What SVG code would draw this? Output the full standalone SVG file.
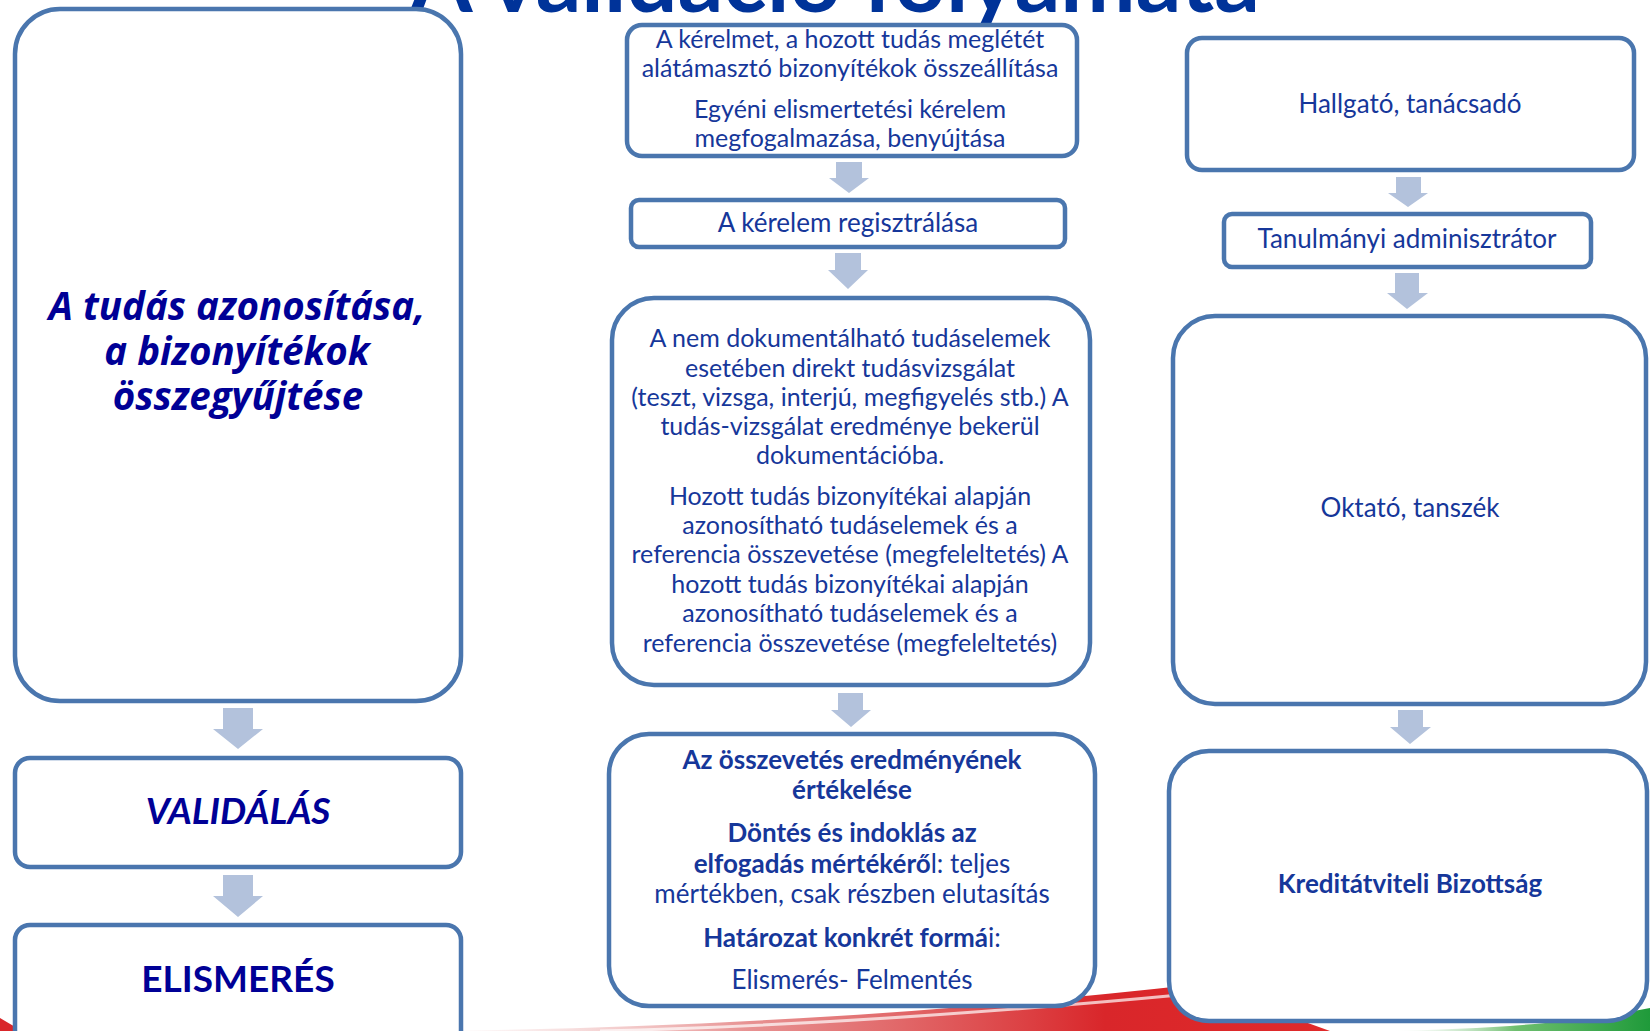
<svg xmlns="http://www.w3.org/2000/svg" width="1650" height="1031" viewBox="0 0 1650 1031">
<defs>
<style>
.box{fill:#ffffff;stroke:#4A76AE;stroke-width:4.5}
.arr{fill:#B3C2DC}
.t{font-family:Lato,"Open Sans","Liberation Sans",sans-serif;font-size:26px;fill:#16379A;text-anchor:middle}
.s{font-size:25px}
.b{font-weight:bold}
.lt{font-family:Lato,"Open Sans","Liberation Sans",sans-serif;font-weight:bold;font-size:37px;fill:#000096;text-anchor:middle}
.oi{font-family:"Open Sans",Lato,"Liberation Sans",sans-serif;font-style:italic;font-size:38.5px}
.title{font-family:Lato,"Open Sans","Liberation Sans",sans-serif;font-weight:bold;font-size:90px;fill:#003399;text-anchor:middle}
</style>
<linearGradient id="redg" x1="0" y1="0" x2="1" y2="0">
<stop offset="0" stop-color="#e9b3b3" stop-opacity="0"/>
<stop offset="0.35" stop-color="#d84a4a" stop-opacity="0.6"/>
<stop offset="0.75" stop-color="#d9262a"/>
<stop offset="1" stop-color="#e02a2a"/>
</linearGradient>
<linearGradient id="greeng" x1="0" y1="0" x2="1" y2="0">
<stop offset="0" stop-color="#ffffff" stop-opacity="0"/>
<stop offset="0.5" stop-color="#6fbf6f"/>
<stop offset="1" stop-color="#1f9a3a"/>
</linearGradient>
</defs>
<rect x="0" y="0" width="1650" height="1031" fill="#ffffff"/>
<g id="background">
<path d="M 430 1031 C 700 1028 950 1012 1200 984 L 1330 1031 Z" fill="url(#redg)"/>
<path d="M 600 1031 C 800 1026 1000 1012 1190 994" fill="none" stroke="#ffffff" stroke-opacity="0.7" stroke-width="3"/>
<path d="M 1380 1031 C 1500 1029 1580 1022 1650 1008 L 1650 1031 Z" fill="url(#greeng)"/>
<path d="M 0 1018 L 22 1031 L 0 1031 Z" fill="#d9262a"/>
</g>
<text class="title" x="835" y="12">A validáció folyamata</text>
<g id="connectors">
<polygon class="arr" points="223,708 253,708 253,729 263,729 238,749 213,729 223,729"/>
<polygon class="arr" points="223,875 253,875 253,896 263,896 238,917 213,896 223,896"/>
<polygon class="arr" points="836,162 862,162 862,178 869,178 849,193 829,178 836,178"/>
<polygon class="arr" points="835,253 861,253 861,270 868,270 848,289 828,270 835,270"/>
<polygon class="arr" points="838,693 863,693 863,710 871,710 851,727 831,710 838,710"/>
<polygon class="arr" points="1396,177 1421,177 1421,193 1428,193 1408,207 1388,193 1396,193"/>
<polygon class="arr" points="1395,273 1419,273 1419,293 1428,293 1407,309 1387,293 1395,293"/>
<polygon class="arr" points="1398,710 1423,710 1423,727 1431,727 1410,744 1390,727 1398,727"/>
</g>
<g id="n-azonositas">
<rect class="box" x="15" y="9" width="446" height="692" rx="45"/>
<text class="lt oi" x="237" y="320">A tudás azonosítása,</text>
<text class="lt oi" x="237" y="365">a bizonyítékok</text>
<text class="lt oi" x="238" y="410">összegyűjtése</text>
</g>
<g id="n-validalas">
<rect class="box" x="15" y="758" width="446" height="109" rx="15"/>
<text class="lt" font-style="italic" font-size="39" x="238" y="824">VALIDÁLÁS</text>
</g>
<g id="n-elismeres">
<rect class="box" x="15" y="925" width="446" height="130" rx="15"/>
<text class="lt" x="238" y="992">ELISMERÉS</text>
</g>
<g id="n-kerelem">
<rect class="box" x="627" y="25" width="450" height="131" rx="15"/>
<text class="t s" x="850" y="48">A kérelmet, a hozott tudás meglétét</text>
<text class="t s" x="850" y="77">alátámasztó bizonyítékok összeállítása</text>
<text class="t s" x="850" y="118">Egyéni elismertetési kérelem</text>
<text class="t s" x="850" y="147">megfogalmazása, benyújtása</text>
</g>
<g id="n-regisztralas">
<rect class="box" x="631" y="200" width="434" height="47" rx="8"/>
<text class="t" x="848" y="232">A kérelem regisztrálása</text>
</g>
<g id="n-vizsgalat">
<rect class="box" x="612" y="298" width="478" height="387" rx="42"/>
<text class="t s" x="850" y="347">A nem dokumentálható tudáselemek</text>
<text class="t s" x="850" y="377">esetében direkt tudásvizsgálat</text>
<text class="t s" x="850" y="406">(teszt, vizsga, interjú, megfigyelés stb.) A</text>
<text class="t s" x="850" y="435">tudás-vizsgálat eredménye bekerül</text>
<text class="t s" x="850" y="464">dokumentációba.</text>
<text class="t s" x="850" y="505">Hozott tudás bizonyítékai alapján</text>
<text class="t s" x="850" y="534">azonosítható tudáselemek és a</text>
<text class="t s" x="850" y="563">referencia összevetése (megfeleltetés) A</text>
<text class="t s" x="850" y="593">hozott tudás bizonyítékai alapján</text>
<text class="t s" x="850" y="622">azonosítható tudáselemek és a</text>
<text class="t s" x="850" y="652">referencia összevetése (megfeleltetés)</text>
</g>
<g id="n-dontes">
<rect class="box" x="609" y="734" width="486" height="272" rx="40"/>
<text class="t b" x="852" y="769">Az összevetés eredményének</text>
<text class="t b" x="852" y="799">értékelése</text>
<text class="t b" x="852" y="842">Döntés és indoklás az</text>
<text class="t" x="852" y="873"><tspan font-weight="bold">elfogadás mértékérő</tspan>l: teljes</text>
<text class="t" x="852" y="903">mértékben, csak részben elutasítás</text>
<text class="t" x="852" y="947"><tspan font-weight="bold">Határozat konkrét formá</tspan>i:</text>
<text class="t" x="852" y="989">Elismerés- Felmentés</text>
</g>
<g id="n-hallgato">
<rect class="box" x="1187" y="38" width="447" height="132" rx="15"/>
<text class="t" x="1410" y="113">Hallgató, tanácsadó</text>
</g>
<g id="n-adminisztrator">
<rect class="box" x="1224" y="214" width="367" height="53" rx="8"/>
<text class="t" x="1407" y="248">Tanulmányi adminisztrátor</text>
</g>
<g id="n-oktato">
<rect class="box" x="1173" y="316" width="473" height="388" rx="42"/>
<text class="t" x="1410" y="517">Oktató, tanszék</text>
</g>
<g id="n-kredit">
<rect class="box" x="1169" y="751" width="478" height="270" rx="40"/>
<text class="t b" x="1410" y="893">Kreditátviteli Bizottság</text>
</g>
</svg>
